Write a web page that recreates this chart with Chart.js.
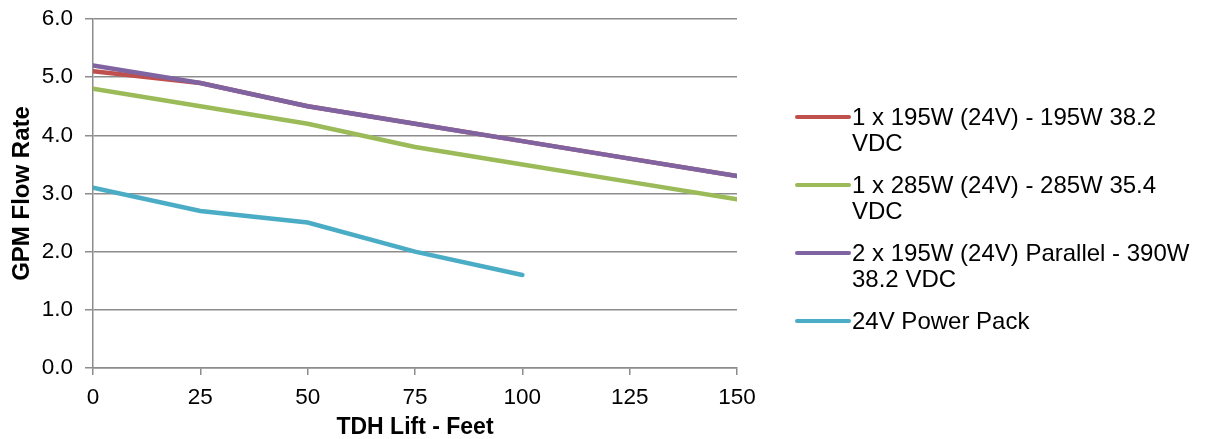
<!DOCTYPE html>
<html>
<head>
<meta charset="utf-8">
<script src="https://cdn.jsdelivr.net/npm/chart.js@4"></script>
<style>
  html, body { margin: 0; padding: 0; background: #fff; }
  #wrap { position: relative; width: 1205px; height: 439px; }
  #legend { position: absolute; left: 795px; top: 104px; font-family: "Liberation Sans", Arial, sans-serif; font-size: 24px; color: #000; line-height: 26px; }
  .item { display: flex; align-items: flex-start; margin-bottom: 16px; }
  .swatch { width: 56px; height: 4px; border-radius: 2px; margin-top: 11px; flex: none; }
  .txt { width: 346px; margin-left: 1px; }
</style>
</head>
<body>
<div id="wrap">
  <canvas id="pumpChart" width="1205" height="439"></canvas>
  <div id="legend"></div>
</div>
<script>
// Flow rate vs lift
const liftFeet = [0, 25, 50, 75, 100, 125, 150];
const yTicks = [0, 1, 2, 3, 4, 5, 6];

const panel195 = [5.1, 4.9, 4.5, 4.2, 3.9, 3.6, 3.3];
const panel285 = [4.8, 4.5, 4.2, 3.8, 3.5, 3.2, 2.9];
const parallel390 = [5.2, 4.9, 4.5, 4.2, 3.9, 3.6, 3.3];
const powerPack = [3.1, 2.7, 2.5, 2.0, 1.6];

const seriesNames = [
  '1 x 195W (24V) - 195W 38.2 VDC',
  '1 x 285W (24V) - 285W 35.4 VDC',
  '2 x 195W (24V) Parallel - 390W 38.2 VDC',
  '24V Power Pack'
];
const seriesColors = ['#C0504D', '#9BBB59', '#8064A2', '#4BACC6'];

function toPoints(vals) {
  return vals.map((v, i) => ({ x: liftFeet[i], y: v }));
}

const font = "'Liberation Sans', Arial, sans-serif";
const gridGray = '#8c8c8c';

// later series drawn on top (purple covers red)
const datasets = [panel195, panel285, parallel390, powerPack].map((vals, i) => ({
  label: seriesNames[i],
  data: toPoints(vals),
  borderColor: seriesColors[i],
  backgroundColor: seriesColors[i],
  borderWidth: 4.5,
  pointRadius: 0,
  tension: 0,
  fill: false,
  borderCapStyle: 'round',
  order: 4 - i
}));

new Chart(document.getElementById('pumpChart'), {
  type: 'line',
  data: { datasets: datasets },
  options: {
    responsive: false,
    animation: false,
    layout: { padding: { left: 10, top: 1, right: 468, bottom: 0 } },
    plugins: {
      legend: { display: false },
      tooltip: { enabled: false }
    },
    scales: {
      x: {
        type: 'linear',
        min: 0,
        max: 150,
        afterBuildTicks: axis => { axis.ticks = liftFeet.map(v => ({ value: v })); },
        afterFit: axis => { axis.height = 71; },
        grid: { drawOnChartArea: false, drawTicks: true, tickLength: 7, color: gridGray, lineWidth: 1.5 },
        border: { color: gridGray, width: 1.5 },
        ticks: { color: '#000', font: { family: font, size: 22.5, lineHeight: 1.2 }, padding: 9, maxRotation: 0 },
        title: { display: true, text: 'TDH Lift - Feet', color: '#000', font: { family: font, size: 23, weight: 'bold', lineHeight: 1 }, padding: { top: 10, bottom: 0 } }
      },
      y: {
        min: 0,
        max: 6,
        afterBuildTicks: axis => { axis.ticks = yTicks.map(v => ({ value: v })); },
        afterFit: axis => { axis.width = 83; axis.paddingTop = 19; },
        grid: { color: gridGray, lineWidth: 1.5, tickLength: 8 },
        border: { color: gridGray, width: 1.5 },
        ticks: { color: '#000', font: { family: font, size: 22.5 }, padding: 12, callback: v => v.toFixed(1) },
        title: { display: true, text: 'GPM Flow Rate', color: '#000', font: { family: font, size: 24, weight: 'bold', lineHeight: 1 }, padding: { top: 0, bottom: 8 } }
      }
    }
  }
});

// HTML legend so long labels can wrap like the original
const legend = document.getElementById('legend');
seriesNames.forEach((name, i) => {
  const item = document.createElement('div');
  item.className = 'item';
  item.innerHTML = '<div class="swatch" style="background:' + seriesColors[i] + '"></div><div class="txt"></div>';
  item.querySelector('.txt').textContent = name;
  legend.appendChild(item);
});
</script>
</body>
</html>
